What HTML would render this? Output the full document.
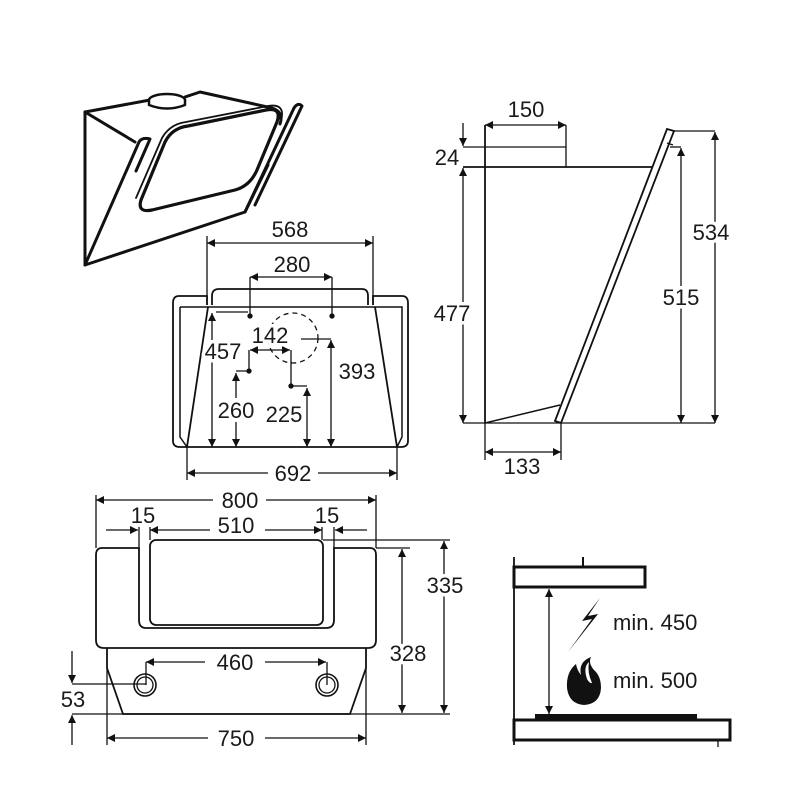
<!DOCTYPE html>
<html><head><style>
html,body{margin:0;padding:0;background:#fff}
svg{display:block}
text{font-family:"Liberation Sans",sans-serif;font-size:22px;fill:#1a1a1a;stroke:#fff;stroke-width:7px;paint-order:stroke;stroke-linejoin:round}
</style></head><body>
<svg width="800" height="800" viewBox="0 0 800 800" xmlns="http://www.w3.org/2000/svg">
<defs>
<marker id="a" viewBox="0 0 10 10" refX="10" refY="5" markerWidth="10" markerHeight="8" orient="auto-start-reverse" markerUnits="userSpaceOnUse"><path d="M0,0 L10,5 L0,10 z" fill="#111"/></marker>
</defs>
<g stroke="#111" fill="none" stroke-width="1.3">

<!-- isometric view -->
<g stroke-width="3" stroke-linejoin="round" stroke-linecap="round">
<path d="M85,112 L85,265 L245,212 L268,165"/>
<path d="M85,112 L150,100 M185,97 L200,92 L272,108 Q284,112 280,124"/>
<path d="M85,112 L135,142"/>
<path d="M245,212 L294,108 Q298,102 302,106 L255,205"/>
<path d="M85,265 L139,142 Q142,137 150,139 L136,171"/>
<path d="M141,200 L165,142 Q172,128 188,126 L266,110 Q282,107 277,122 L257,170 Q250,186 235,190 L152,210 Q137,213 141,200 Z" stroke-width="3.2"/>
<path d="M136,198 L162,138 Q170,124 186,122 L268,106 Q286,103 281,121" stroke-width="1.8"/>
<ellipse cx="167" cy="100" rx="18" ry="6" fill="#fff" stroke-width="2.5"/>
<path d="M149,100 L149,105 Q167,112 185,105 L185,100" fill="#fff" stroke-width="2.5"/>
</g>

<!-- front view -->
<line x1="207" y1="243" x2="373" y2="243" marker-start="url(#a)" marker-end="url(#a)"/>
<line x1="207" y1="236" x2="207" y2="305"/><line x1="373" y1="236" x2="373" y2="305"/>
<line x1="250" y1="277" x2="332" y2="277" marker-start="url(#a)" marker-end="url(#a)"/>
<line x1="250" y1="277" x2="250" y2="316"/><line x1="332" y1="277" x2="332" y2="316"/>
<path d="M212,305 L212,296 Q212,289 219,289 L362,289 Q368,289 368,296 L368,305" stroke-width="1.8"/>
<path d="M207,305 L207,296 L179,296 Q173,296 173,303 L173,441 Q173,447 180,447 L187,447 M373,305 L373,296 L402,296 Q408,296 408,303 L408,441 Q408,447 401,447 L397,447" stroke-width="1.8"/>
<path d="M180,307 L402,307 L402,437 L397,447 M180,307 L180,437 L187,447" stroke-width="1.5"/>
<path d="M208,307 L187,447 L397,447 L375,307" stroke-width="1.8"/>
<line x1="187" y1="447" x2="187" y2="480"/><line x1="397" y1="447" x2="397" y2="480"/>
<line x1="187" y1="473" x2="268" y2="473" marker-start="url(#a)"/><line x1="318" y1="473" x2="397" y2="473" marker-end="url(#a)"/>
<circle cx="250" cy="316" r="2" fill="#111"/><circle cx="332" cy="316" r="2" fill="#111"/>
<circle cx="249" cy="371" r="2" fill="#111"/><circle cx="291" cy="386" r="2" fill="#111"/>
<circle cx="293" cy="338" r="25" stroke-dasharray="5,4"/>
<line x1="216" y1="312" x2="248" y2="312"/>
<line x1="212" y1="313" x2="212" y2="447" marker-start="url(#a)" marker-end="url(#a)"/>
<line x1="301" y1="339" x2="331" y2="339"/>
<line x1="331" y1="340" x2="331" y2="447" marker-start="url(#a)" marker-end="url(#a)"/>
<path d="M249,350 L249,371 L236,371"/><path d="M291,350 L291,386 L307,386"/>
<line x1="250" y1="350" x2="290" y2="350" marker-start="url(#a)" marker-end="url(#a)"/>
<line x1="236" y1="373" x2="236" y2="398" marker-start="url(#a)"/><line x1="236" y1="422" x2="236" y2="447" marker-end="url(#a)"/>
<line x1="307" y1="388" x2="307" y2="447" marker-start="url(#a)" marker-end="url(#a)"/>

<!-- side view -->
<line x1="485" y1="125" x2="566" y2="125" marker-start="url(#a)" marker-end="url(#a)"/>
<line x1="566" y1="125" x2="566" y2="167"/>
<line x1="485" y1="125" x2="485" y2="423" stroke-width="1.8"/>
<line x1="463" y1="147" x2="566" y2="147"/>
<line x1="463" y1="167" x2="653" y2="167" stroke-width="1.8"/>
<line x1="463" y1="423" x2="715" y2="423" stroke-width="1.3"/>
<path d="M485,423 L560,405" stroke-width="1.5"/>
<path d="M667,129 L674,131 L561,423 L555,421 Z" stroke-width="1.8" fill="#fff"/>
<line x1="667" y1="143" x2="673" y2="145"/>
<line x1="674" y1="131" x2="715" y2="131"/><line x1="670" y1="147" x2="681" y2="147"/>
<line x1="463" y1="123" x2="463" y2="146" marker-end="url(#a)"/>
<line x1="463" y1="168" x2="463" y2="423" marker-start="url(#a)" marker-end="url(#a)"/>
<line x1="681" y1="148" x2="681" y2="423" marker-start="url(#a)" marker-end="url(#a)"/>
<line x1="715" y1="132" x2="715" y2="423" marker-start="url(#a)" marker-end="url(#a)"/>
<line x1="485" y1="423" x2="485" y2="460"/><line x1="561" y1="423" x2="561" y2="460"/>
<line x1="485" y1="452" x2="561" y2="452" marker-start="url(#a)" marker-end="url(#a)"/>

<!-- bottom view -->
<line x1="96" y1="495" x2="96" y2="548"/><line x1="376" y1="495" x2="376" y2="548"/>
<line x1="96" y1="500" x2="213" y2="500" marker-start="url(#a)"/><line x1="266" y1="500" x2="376" y2="500" marker-end="url(#a)"/>
<line x1="106" y1="530" x2="138" y2="530" marker-end="url(#a)"/>
<line x1="367" y1="530" x2="335" y2="530" marker-end="url(#a)"/>
<line x1="139" y1="527" x2="139" y2="548"/><line x1="334" y1="527" x2="334" y2="548"/>
<line x1="150" y1="530" x2="210" y2="530" marker-start="url(#a)"/><line x1="265" y1="530" x2="322" y2="530" marker-end="url(#a)"/>
<line x1="150" y1="527" x2="150" y2="540"/><line x1="322" y1="527" x2="322" y2="540"/>
<path d="M139,548 L102,548 Q96,548 96,555 L96,640 Q96,648 104,648 L368,648 Q376,648 376,640 L376,555 Q376,548 370,548 L334,548 L334,620 Q334,628 326,628 L146,628 Q139,628 139,620 Z" stroke-width="1.8"/>
<rect x="150" y="540" width="173" height="85" rx="6" stroke-width="1.8"/>
<path d="M107,648 L107,668 L123,714 L350,714 L366,668 L366,648" stroke-width="1.8"/>
<circle cx="145" cy="685" r="11" stroke-width="1.6"/><circle cx="145" cy="685" r="8"/>
<circle cx="327" cy="685" r="11" stroke-width="1.6"/><circle cx="327" cy="685" r="8"/>
<path d="M146,685 L146,662 M327,685 L327,662"/>
<line x1="146" y1="662" x2="205" y2="662" marker-start="url(#a)"/><line x1="265" y1="662" x2="326" y2="662" marker-end="url(#a)"/>
<line x1="72" y1="684" x2="146" y2="684"/><line x1="72" y1="714" x2="450" y2="714"/>
<line x1="72" y1="651" x2="72" y2="683" marker-end="url(#a)"/>
<line x1="72" y1="745" x2="72" y2="715" marker-end="url(#a)"/>
<line x1="107" y1="668" x2="107" y2="745"/><line x1="366" y1="668" x2="366" y2="745"/>
<line x1="107" y1="738" x2="208" y2="738" marker-start="url(#a)"/><line x1="265" y1="738" x2="366" y2="738" marker-end="url(#a)"/>
<line x1="376" y1="548" x2="410" y2="548"/><line x1="323" y1="540" x2="450" y2="540"/>
<line x1="402" y1="549" x2="402" y2="713" marker-start="url(#a)" marker-end="url(#a)"/>
<line x1="444" y1="541" x2="444" y2="713" marker-start="url(#a)" marker-end="url(#a)"/>

<!-- safety -->
<line x1="514" y1="557" x2="514" y2="745" stroke-width="1.8"/>
<line x1="583" y1="557" x2="583" y2="567" stroke-width="2"/>
<rect x="514" y="567" width="131" height="20" stroke-width="3"/>
<line x1="549" y1="589" x2="549" y2="714" marker-start="url(#a)" marker-end="url(#a)"/>
<rect x="535" y="714" width="162" height="6" fill="#111" stroke="none"/>
<rect x="514" y="720" width="216" height="20" stroke-width="3"/>
<line x1="718" y1="740" x2="718" y2="747"/>
</g>
<polygon points="600,598 582,621 592,619 568,652 598,614 588,616" fill="#111"/>
<path d="M591,657 Q578,662 581,675 Q577,670 576,664 Q566,672 567,688 Q569,704 584,705 Q600,704 601,688 Q601,676 594,670 Q588,663 591,657 Z" fill="#111"/>
<path d="M589,662 Q583,667 587,679 Q590,684 592,683 Q587,672 589,662 Z" fill="#fff"/>

<text x="290" y="237" text-anchor="middle">568</text>
<text x="292" y="272" text-anchor="middle">280</text>
<text x="270" y="343" text-anchor="middle">142</text>
<text x="223" y="359" text-anchor="middle">457</text>
<text x="357" y="379" text-anchor="middle">393</text>
<text x="236" y="418" text-anchor="middle">260</text>
<text x="284" y="422" text-anchor="middle">225</text>
<text x="293" y="481" text-anchor="middle">692</text>
<text x="526" y="117" text-anchor="middle">150</text>
<text x="447" y="165" text-anchor="middle">24</text>
<text x="452" y="321" text-anchor="middle">477</text>
<text x="681" y="305" text-anchor="middle">515</text>
<text x="711" y="240" text-anchor="middle">534</text>
<text x="522" y="474" text-anchor="middle">133</text>
<text x="240" y="508" text-anchor="middle">800</text>
<text x="143" y="523" text-anchor="middle">15</text>
<text x="327" y="523" text-anchor="middle">15</text>
<text x="236" y="533" text-anchor="middle">510</text>
<text x="235" y="670" text-anchor="middle">460</text>
<text x="73" y="707" text-anchor="middle">53</text>
<text x="236" y="746" text-anchor="middle">750</text>
<text x="408" y="661" text-anchor="middle">328</text>
<text x="445" y="593" text-anchor="middle">335</text>
<text x="613" y="630">min. 450</text>
<text x="613" y="688">min. 500</text>
</svg>
</body></html>
